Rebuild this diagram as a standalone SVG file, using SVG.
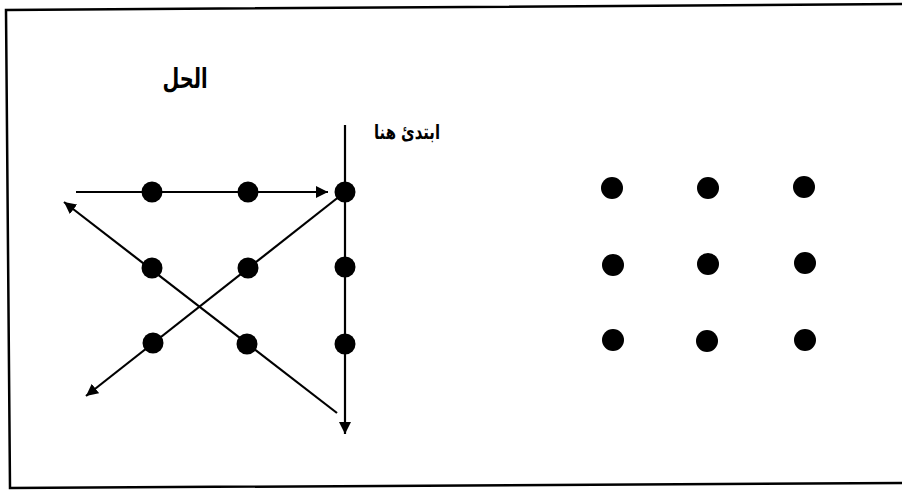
<svg xmlns="http://www.w3.org/2000/svg" width="902" height="492" viewBox="0 0 902 492">
<style>
.dot{fill:#000}
.ln{stroke:#000;stroke-width:2.2;fill:none}
.lbl{font-family:"DejaVu Sans","Liberation Sans",sans-serif;font-weight:bold;fill:#000;text-anchor:middle}
</style>
<defs>
<marker id="arr" markerUnits="userSpaceOnUse" markerWidth="14" markerHeight="12" refX="12" refY="6" orient="auto">
<path d="M0,0 L12,6 L0,12 Z" fill="#000"/>
</marker>
</defs>
<rect width="902" height="492" fill="#fff"/>
<path d="M903,4 L6,10 L10,488 L903,483" fill="none" stroke="#000" stroke-width="2.5"/>
<text class="lbl" x="185" y="88" font-size="27" textLength="45" lengthAdjust="spacingAndGlyphs">الحل</text>
<text class="lbl" x="407" y="139" font-size="20" textLength="66" lengthAdjust="spacingAndGlyphs">ابتدئ هنا</text>
<g id="connectors">
<line class="ln" x1="76" y1="192" x2="328" y2="192" marker-end="url(#arr)"/>
<line class="ln" x1="345" y1="125" x2="345" y2="434" marker-end="url(#arr)"/>
<line class="ln" x1="345" y1="192" x2="86" y2="396" marker-end="url(#arr)"/>
<line class="ln" x1="337" y1="413" x2="64" y2="202" marker-end="url(#arr)"/>
</g>
<g id="left-grid">
<g id="a1"><circle class="dot" cx="152" cy="192" r="10.5"/></g>
<g id="a2"><circle class="dot" cx="248" cy="192" r="10.5"/></g>
<g id="a3"><circle class="dot" cx="345" cy="192" r="10.5"/></g>
<g id="b1"><circle class="dot" cx="152" cy="268" r="10.5"/></g>
<g id="b2"><circle class="dot" cx="248" cy="268" r="10.5"/></g>
<g id="b3"><circle class="dot" cx="345" cy="267" r="10.5"/></g>
<g id="c1"><circle class="dot" cx="153" cy="343" r="10.5"/></g>
<g id="c2"><circle class="dot" cx="247" cy="344" r="10.5"/></g>
<g id="c3"><circle class="dot" cx="345" cy="344" r="10.5"/></g>
</g>
<g id="right-grid">
<g id="d1"><circle class="dot" cx="612" cy="188" r="11"/></g>
<g id="d2"><circle class="dot" cx="708" cy="188" r="11"/></g>
<g id="d3"><circle class="dot" cx="804" cy="187" r="11"/></g>
<g id="e1"><circle class="dot" cx="613" cy="265" r="11"/></g>
<g id="e2"><circle class="dot" cx="708" cy="264" r="11"/></g>
<g id="e3"><circle class="dot" cx="805" cy="263" r="11"/></g>
<g id="f1"><circle class="dot" cx="613" cy="340" r="11"/></g>
<g id="f2"><circle class="dot" cx="707" cy="341" r="11"/></g>
<g id="f3"><circle class="dot" cx="805" cy="340" r="11"/></g>
</g>
</svg>
